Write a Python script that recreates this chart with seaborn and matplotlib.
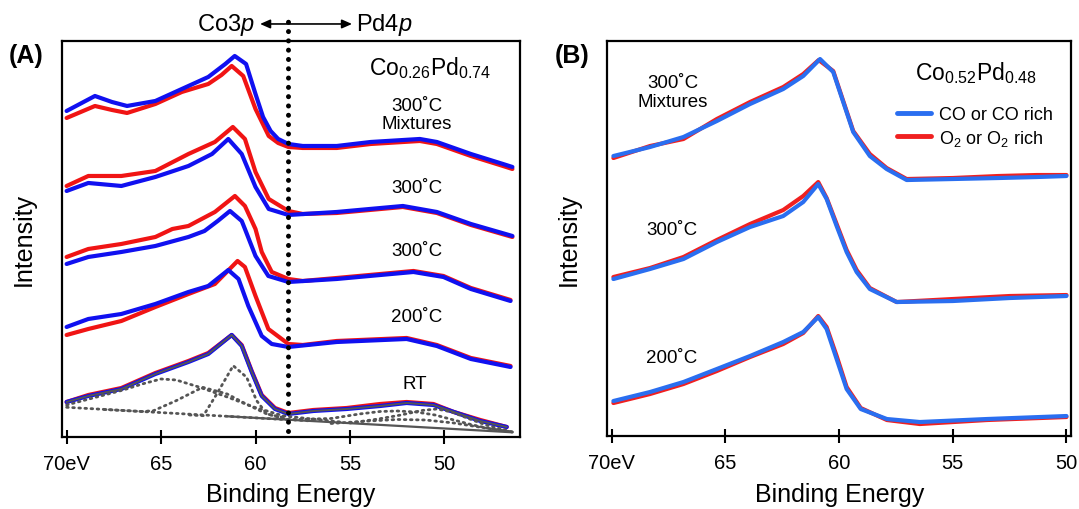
import matplotlib
matplotlib.use("Agg")
import matplotlib.pyplot as plt
import seaborn as sns
import pandas as pd
from matplotlib.lines import Line2D

# ---------------- data: panel A (Co0.26Pd0.74), intensity in arbitrary units ----------------
A_mix_co_E = [70.0, 68.5, 67.6, 66.8, 65.3, 63.9, 62.5, 61.6, 61.1, 60.5, 60.0, 59.6, 59.2, 58.8, 58.26, 57.5, 55.7, 53.9, 51.3, 50.4, 48.6, 46.9, 46.4]
A_mix_co_I = [326, 341, 335, 331, 336, 348, 360, 373, 381, 373, 343, 320, 306, 298, 293, 291, 291, 295, 298, 295, 283, 273, 270]
A_mix_o2_E = [70.0, 68.5, 67.6, 66.8, 65.3, 63.9, 62.5, 61.8, 61.26, 60.65, 60.0, 59.3, 58.8, 58.26, 57.5, 55.7, 53.9, 51.3, 50.4, 48.6, 46.9, 46.4]
A_mix_o2_I = [319, 331, 327, 324, 333, 345, 353, 362, 371, 361, 328, 301, 294, 290, 289, 289, 293, 296, 293, 281, 271, 268]

A_300a_co_E = [70.0, 68.85, 67.1, 65.3, 63.55, 62.3, 61.44, 60.73, 60.0, 59.3, 58.26, 55.7, 52.2, 50.4, 48.6, 46.4]
A_300a_co_I = [246, 254, 251, 260, 271, 283, 298, 283, 250, 228, 222, 225, 231, 225, 213, 201]
A_300a_o2_E = [70.0, 68.85, 67.1, 65.3, 63.55, 62.15, 61.2, 60.56, 60.0, 59.3, 58.26, 57.5, 55.7, 52.2, 50.4, 48.6, 46.4]
A_300a_o2_I = [251, 261, 261, 266, 283, 295, 310, 298, 265, 238, 226, 223, 224, 230, 224, 212, 200]

A_300b_co_E = [70.0, 68.85, 67.1, 65.3, 63.55, 62.7, 62.0, 61.35, 60.73, 60.56, 60.0, 59.32, 58.26, 55.7, 51.64, 50.05, 48.6, 46.5]
A_300b_co_I = [173, 180, 185, 191, 200, 206, 216, 226, 216, 208, 181, 161, 155, 158, 165, 160, 148, 136]
A_300b_o2_E = [70.0, 68.85, 67.1, 65.3, 64.4, 63.55, 62.15, 61.09, 60.56, 60.0, 59.67, 59.14, 58.26, 57.5, 55.7, 51.64, 50.05, 48.6, 46.5]
A_300b_o2_I = [180, 188, 193, 200, 208, 211, 225, 241, 231, 208, 185, 165, 158, 156, 159, 166, 161, 149, 137]

A_200_co_E = [70.0, 68.85, 67.1, 65.3, 63.55, 62.5, 61.44, 60.9, 60.38, 59.67, 59.14, 58.26, 55.7, 52.0, 50.4, 48.6, 46.5]
A_200_co_I = [110, 118, 123, 133, 145, 151, 167, 158, 131, 101, 93, 90, 95, 98, 91, 78, 70]
A_200_o2_E = [70.0, 68.85, 67.1, 65.3, 63.55, 62.15, 60.95, 60.56, 60.0, 59.32, 58.26, 57.5, 55.7, 52.0, 50.4, 48.6, 46.5]
A_200_o2_I = [102, 108, 116, 130, 143, 153, 176, 170, 141, 108, 93, 92, 96, 99, 92, 79, 71]

A_rt_co_E = [70.0, 68.85, 67.1, 65.3, 63.55, 62.5, 61.26, 60.73, 60.2, 59.67, 58.97, 58.26, 56.94, 55.17, 53.4, 52.0, 50.58, 49.5, 48.1, 46.7]
A_rt_co_I = [35, 41, 48, 63, 75, 83, 102, 91, 65, 41, 28, 23, 26, 28, 31, 34, 32, 25, 16, 10]
A_rt_o2_E = [70.0, 68.85, 67.1, 65.3, 63.55, 62.5, 61.26, 60.73, 60.2, 59.67, 58.97, 58.26, 56.94, 55.17, 53.4, 52.0, 50.58, 49.5, 48.1, 46.7]
A_rt_o2_I = [35, 42, 49, 64, 76, 84, 102, 92, 66, 42, 29, 24, 27, 29, 33, 35, 33, 25, 17, 10]

# RT peak-fit components (read from the dotted / solid grey lines)
fit_bg_E = [61.5, 46.4]
fit_bg_I = [20.7, 4.7]
fit_base_E = [70.0, 58.3]
fit_base_I = [29.7, 17.3]
fit_c1_E = [70.0, 69.0, 68.0, 67.0, 66.0, 65.0, 64.2, 63.0, 61.5, 60.1, 58.5, 57.0, 55.5]
fit_c1_I = [32, 37, 42, 47, 53, 58, 57, 50, 40, 30, 21, 18, 15]
fit_c2_E = [68.0, 66.0, 65.4, 64.2, 62.8, 61.5, 60.5, 59.4, 58.3, 57.0]
fit_c2_I = [27.5, 25.5, 26.3, 36.3, 49.7, 43, 33, 23, 17.5, 16]
fit_c3_E = [63.5, 62.76, 62.05, 61.18, 60.47, 59.94, 59.4, 58.5]
fit_c3_I = [22, 21.3, 43, 71.3, 59.7, 36.3, 23, 19.5]
fit_pd1_E = [58.3, 56.0, 54.5, 53.4, 52.5, 51.5, 50.5, 49.5, 48.5, 47.5, 46.4]
fit_pd1_I = [17.3, 18.5, 23, 25.5, 26, 25, 22, 17, 12, 8, 5]
fit_pd2_E = [55.0, 53.5, 52.3, 51.2, 50.4, 49.6, 48.8, 47.8, 46.4]
fit_pd2_I = [14, 18, 22, 26.5, 28, 25, 19, 12, 5]
fit_pd3_E = [56.0, 54.0, 52.5, 51.0, 49.5, 48.0, 46.4]
fit_pd3_I = [13.5, 16, 17.5, 17, 14, 9.5, 5]

A_divider_E = 58.3

# ---------------- data: panel B (Co0.52Pd0.48) ----------------
B_mix_co_E = [69.93, 68.32, 66.85, 65.38, 63.92, 62.46, 61.58, 60.84, 60.26, 59.82, 59.38, 58.65, 57.91, 57.03, 55.0, 53.0, 51.3, 50.0]
B_mix_co_I = [280, 289, 299, 315, 332, 347, 360, 377, 364, 334, 304, 280, 267, 256, 257, 258, 259, 260]
B_mix_o2_E = [69.93, 68.32, 66.85, 65.38, 63.92, 62.46, 61.58, 60.9, 60.26, 59.82, 59.38, 58.65, 57.91, 57.03, 55.0, 53.0, 51.3, 50.0]
B_mix_o2_I = [278, 290, 297, 317, 334, 349, 362, 376, 365, 335, 305, 282, 268, 257, 258, 260, 261, 261]

B_300_co_E = [69.93, 68.32, 66.85, 65.38, 63.92, 62.46, 61.58, 60.92, 60.55, 60.11, 59.67, 59.23, 58.65, 57.47, 55.0, 52.5, 50.0]
B_300_co_I = [157, 167, 177, 194, 209, 220, 234, 252, 237, 210, 184, 164, 147, 134, 135, 138, 140]
B_300_o2_E = [69.93, 68.32, 66.85, 65.38, 63.92, 62.46, 61.58, 60.92, 60.55, 60.11, 59.67, 59.23, 58.65, 57.47, 55.0, 52.5, 50.0]
B_300_o2_I = [159, 168, 179, 196, 212, 226, 240, 254, 238, 212, 186, 166, 148, 134, 137, 140, 141]

B_200_co_E = [69.93, 68.32, 66.85, 65.38, 63.92, 62.46, 61.58, 60.92, 60.55, 60.11, 59.67, 59.05, 57.9, 56.45, 53.5, 50.0]
B_200_co_I = [35, 44, 54, 67, 80, 94, 104, 119, 107, 77, 47, 27, 17, 14, 17, 20]
B_200_o2_E = [69.93, 68.32, 66.85, 65.38, 63.92, 62.46, 61.58, 60.92, 60.55, 60.11, 59.67, 59.05, 57.9, 56.45, 53.5, 50.0]
B_200_o2_I = [33, 42, 52, 65, 79, 92, 103, 120, 109, 80, 49, 28, 16, 12, 16, 19]

tick_values = [70, 65, 60, 55, 50]
tick_labels = ["70eV", "65", "60", "55", "50"]
legend_labels = ["CO or CO rich", r"O$_2$ or O$_2$ rich"]

# ---------------- style ----------------
sns.set_theme(style="white")
plt.rcParams["font.family"] = ["Liberation Sans", "DejaVu Sans"]
plt.rcParams["mathtext.fontset"] = "custom"
plt.rcParams["mathtext.rm"] = "Liberation Sans"
plt.rcParams["mathtext.it"] = "Liberation Sans:italic"
plt.rcParams["mathtext.bf"] = "Liberation Sans:bold"
plt.rcParams["mathtext.default"] = "regular"
plt.rcParams["text.color"] = "black"
plt.rcParams["axes.labelcolor"] = "black"
plt.rcParams["xtick.color"] = "black"
plt.rcParams["ytick.color"] = "black"

A_BLUE, A_RED = "#1010f0", "#f01414"
B_BLUE, B_RED = "#2a6ef0", "#f02020"
FIT_GREY = "#555555"

fig = plt.figure(figsize=(10.79, 5.10), dpi=100)
axA = fig.add_axes([0.0577, 0.1412, 0.4242, 0.7765])
axB = fig.add_axes([0.5628, 0.1431, 0.4298, 0.7745])


def draw(ax, E, I, color, lw=3.0, ls="-", z=2, **kw):
    df = pd.DataFrame({"E": E, "I": I})
    sns.lineplot(data=df, x="E", y="I", ax=ax, color=color, lw=lw, ls=ls,
                 sort=False, estimator=None, zorder=z, legend=False, **kw)


# panel A spectra
pairs_A = [
    (A_mix_o2_E, A_mix_o2_I, A_mix_co_E, A_mix_co_I),
    (A_300a_o2_E, A_300a_o2_I, A_300a_co_E, A_300a_co_I),
    (A_300b_o2_E, A_300b_o2_I, A_300b_co_E, A_300b_co_I),
    (A_200_o2_E, A_200_o2_I, A_200_co_E, A_200_co_I),
    (A_rt_o2_E, A_rt_o2_I, A_rt_co_E, A_rt_co_I),
]
for oE, oI, cE, cI in pairs_A:
    draw(axA, oE, oI, A_RED, z=2)
    draw(axA, cE, cI, A_BLUE, z=3)

# fit envelope on RT and components
draw(axA, A_rt_co_E, A_rt_co_I, FIT_GREY, lw=1.4, z=4)
draw(axA, fit_bg_E, fit_bg_I, FIT_GREY, lw=1.6, z=4)
dot = (0, (0.6, 1.6))
for E, I in [(fit_base_E, fit_base_I), (fit_c1_E, fit_c1_I), (fit_c2_E, fit_c2_I),
             (fit_c3_E, fit_c3_I), (fit_pd1_E, fit_pd1_I), (fit_pd2_E, fit_pd2_I),
             (fit_pd3_E, fit_pd3_I)]:
    draw(axA, E, I, FIT_GREY, lw=2.0, ls=dot, z=4, dash_capstyle="round")

axA.set_xlim(70.23, 46.0)
axA.set_ylim(0, 396)

# vertical divider (extends above the frame)
axA.plot([A_divider_E, A_divider_E], [6, 423], color="black", lw=3.6,
         ls=(0, (0.01, 1.85)), dash_capstyle="round", clip_on=False, zorder=6)

# top annotation Co3p <-> Pd4p
axA.annotate("", xy=(59.76, 413), xytext=(54.89, 413), xycoords="data",
             arrowprops=dict(arrowstyle="<|-|>,head_length=0.5,head_width=0.22",
                             color="black", lw=1.2, shrinkA=0, shrinkB=0),
             annotation_clip=False)
axA.text(60.02, 413, r"Co$\mathit{3p}$", ha="right", va="center", fontsize=17)
axA.text(54.68, 413, r"Pd$\mathit{4p}$", ha="left", va="center", fontsize=17)

axA.text(50.76, 370, r"Co$_{0.26}$Pd$_{0.74}$", ha="center", va="center", fontsize=16.5)
for (x, y, s) in [(51.46, 331, "300˚C"), (51.46, 313, "Mixtures"), (51.46, 249, "300˚C"),
                  (51.46, 186, "300˚C"), (51.46, 120, "200˚C"), (51.55, 53, "RT")]:
    axA.text(x, y, s, ha="center", va="center", fontsize=13.5)

# panel B spectra
pairs_B = [
    (B_mix_o2_E, B_mix_o2_I, B_mix_co_E, B_mix_co_I),
    (B_300_o2_E, B_300_o2_I, B_300_co_E, B_300_co_I),
    (B_200_o2_E, B_200_o2_I, B_200_co_E, B_200_co_I),
]
for oE, oI, cE, cI in pairs_B:
    draw(axB, oE, oI, B_RED, z=2)
    draw(axB, cE, cI, B_BLUE, z=3)

axB.set_xlim(70.2, 49.8)
axB.set_ylim(0, 395)

axB.text(54.0, 364, r"Co$_{0.52}$Pd$_{0.48}$", ha="center", va="center", fontsize=16.5)
for (x, y, s) in [(67.3, 354, "300˚C"), (67.3, 335, "Mixtures"),
                  (67.36, 207, "300˚C"), (67.36, 79, "200˚C")]:
    axB.text(x, y, s, ha="center", va="center", fontsize=13.5)

handles = [Line2D([], [], color=B_BLUE, lw=3.5), Line2D([], [], color=B_RED, lw=3.5)]
axB.legend(handles, legend_labels, loc="upper left", bbox_to_anchor=(0.625, 0.835),
           frameon=False, fontsize=13, handlelength=1.9, handletextpad=0.4,
           labelspacing=0.25, borderpad=0, borderaxespad=0)

for ax in (axA, axB):
    ax.set_xticks(tick_values)
    ax.set_xticklabels(tick_labels)
    ax.set_yticks([])
    ax.tick_params(axis="x", direction="inout", length=10, width=1.5,
                   labelsize=14.5, pad=7, color="black", labelcolor="black", bottom=True)
    for sp in ax.spines.values():
        sp.set_visible(True)
        sp.set_color("black")
        sp.set_linewidth(1.6)
    ax.set_xlabel("Binding Energy", fontsize=18, color="black")
    ax.set_ylabel("Intensity", fontsize=18, color="black")
    ax.xaxis.label.set_va("center")
    ax.yaxis.label.set_va("center")

axA.xaxis.set_label_coords(0.5, -0.144)
axB.xaxis.set_label_coords(0.5, -0.148)
axA.yaxis.set_label_coords(-0.085, 0.5)
axB.yaxis.set_label_coords(-0.083, 0.5)

fig.text(0.024, 0.890, "(A)", fontsize=18, fontweight="bold", ha="center", va="center")
fig.text(0.5306, 0.890, "(B)", fontsize=18, fontweight="bold", ha="center", va="center")

fig.savefig("out.png", dpi=100, facecolor="white")
